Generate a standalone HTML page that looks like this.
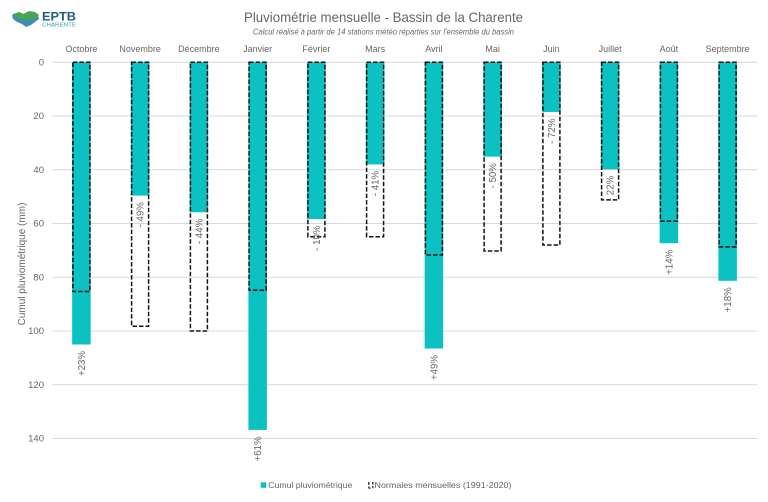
<!DOCTYPE html>
<html><head><meta charset="utf-8"><style>
html,body{margin:0;padding:0;background:#fff;}
svg{display:block;font-family:"Liberation Sans",Arial,sans-serif;}
</style></head><body>
<svg width="768" height="502" viewBox="0 0 768 502" xmlns="http://www.w3.org/2000/svg">
<rect width="768" height="502" fill="#fff"/>
<!-- logo -->
<g>
<path d="M12,15 L18,13 L22,15 L27,12 L33,13 L38,15 L39,19 L35,22 L31,25 L26,27 L22,24 L17,22 L13,19 Z" fill="#3f8fb0"/>
<path d="M13,14 L19,12 L24,14 L29,11 L35,12 L39,15 L36,18 L30,19 L25,20 L20,18 L15,17 Z" fill="#4aa54e"/>
<text x="42" y="20.5" font-size="11.5" font-weight="bold" fill="#1e5a80" textLength="34" lengthAdjust="spacingAndGlyphs">EPTB</text>
<text x="42" y="26.5" font-size="5.5" fill="#2aa6b0" textLength="34" lengthAdjust="spacingAndGlyphs">CHARENTE</text>
</g>
<!-- titles -->
<text x="244" y="22" font-size="14" fill="#666" textLength="279" lengthAdjust="spacingAndGlyphs">Pluviométrie mensuelle - Bassin de la Charente</text>
<text x="253" y="34.5" font-size="8" font-style="italic" fill="#666" textLength="261" lengthAdjust="spacingAndGlyphs">Calcul réalisé à partir de 14 stations météo réparties sur l'ensemble du bassin</text>
<!-- gridlines -->
<g stroke="#d9d9d9" stroke-width="1">
<line x1="52" x2="757" y1="62.3" y2="62.3"/>
<line x1="52" x2="757" y1="116" y2="116"/>
<line x1="52" x2="757" y1="169.8" y2="169.8"/>
<line x1="52" x2="757" y1="223.5" y2="223.5"/>
<line x1="52" x2="757" y1="277.3" y2="277.3"/>
<line x1="52" x2="757" y1="331" y2="331"/>
<line x1="52" x2="757" y1="384.8" y2="384.8"/>
<line x1="52" x2="757" y1="438.5" y2="438.5"/>
</g>
<!-- y tick labels -->
<g font-size="9.5" fill="#666" text-anchor="end">
<text x="44" y="65.5">0</text>
<text x="44" y="119.2">20</text>
<text x="44" y="173">40</text>
<text x="44" y="226.7">60</text>
<text x="44" y="280.5">80</text>
<text x="44" y="334.2">100</text>
<text x="44" y="388">120</text>
<text x="44" y="441.7">140</text>
</g>
<text transform="translate(25,264) rotate(-90)" font-size="10" fill="#666" text-anchor="middle">Cumul pluviométrique (mm)</text>
<!-- month labels -->
<g font-size="9" fill="#666" text-anchor="middle">
<text x="81.4" y="52">Octobre</text>
<text x="140.1" y="52">Novembre</text>
<text x="198.9" y="52">Décembre</text>
<text x="257.6" y="52">Janvier</text>
<text x="316.4" y="52">Février</text>
<text x="375.1" y="52">Mars</text>
<text x="433.9" y="52">Avril</text>
<text x="492.6" y="52">Mai</text>
<text x="551.4" y="52">Juin</text>
<text x="610.1" y="52">Juillet</text>
<text x="668.9" y="52">Août</text>
<text x="727.6" y="52">Septembre</text>
</g>
<!-- teal bars -->
<g fill="#0bc1c1">
<rect x="72.15" y="62.3" width="18.5" height="282.2"/>
<rect x="130.9" y="62.3" width="18.5" height="133.3"/>
<rect x="189.65" y="62.3" width="18.5" height="150"/>
<rect x="248.4" y="62.3" width="18.5" height="367.6"/>
<rect x="307.15" y="62.3" width="18.5" height="156.7"/>
<rect x="365.9" y="62.3" width="18.5" height="102.1"/>
<rect x="424.65" y="62.3" width="18.5" height="286.2"/>
<rect x="483.4" y="62.3" width="18.5" height="94.3"/>
<rect x="542.15" y="62.3" width="18.5" height="49.7"/>
<rect x="600.9" y="62.3" width="18.5" height="107"/>
<rect x="659.65" y="62.3" width="18.5" height="180.9"/>
<rect x="718.4" y="62.3" width="18.5" height="218.5"/>
</g>
<!-- normals dashed boxes -->
<g fill="none" stroke="#111" stroke-width="1.5" stroke-dasharray="4.5 2">
<rect x="72.9" y="62.3" width="17" height="229.2"/>
<rect x="131.6" y="62.3" width="17" height="263.9"/>
<rect x="190.4" y="62.3" width="17" height="268.7"/>
<rect x="249.1" y="62.3" width="17" height="227.9"/>
<rect x="307.9" y="62.3" width="17" height="174.4"/>
<rect x="366.6" y="62.3" width="17" height="174.4"/>
<rect x="425.4" y="62.3" width="17" height="192.7"/>
<rect x="484.1" y="62.3" width="17" height="188.7"/>
<rect x="542.9" y="62.3" width="17" height="182.7"/>
<rect x="601.6" y="62.3" width="17" height="137.6"/>
<rect x="660.4" y="62.3" width="17" height="158.8"/>
<rect x="719.1" y="62.3" width="17" height="184.6"/>
</g>
<!-- percentage labels -->
<g font-size="9.7" fill="#666" text-anchor="end">
<text transform="translate(84.9,351) rotate(-90)">+23%</text>
<text transform="translate(143.6,202.1) rotate(-90)">- 49%</text>
<text transform="translate(202.4,218.8) rotate(-90)">- 44%</text>
<text transform="translate(261.1,436.4) rotate(-90)">+61%</text>
<text transform="translate(319.9,225.5) rotate(-90)">- 10%</text>
<text transform="translate(378.6,170.9) rotate(-90)">- 41%</text>
<text transform="translate(437.4,355) rotate(-90)">+49%</text>
<text transform="translate(496.1,163.1) rotate(-90)">- 50%</text>
<text transform="translate(554.9,118.5) rotate(-90)">- 72%</text>
<text transform="translate(613.6,175.8) rotate(-90)">- 22%</text>
<text transform="translate(672.4,249.7) rotate(-90)">+14%</text>
<text transform="translate(731.1,287.3) rotate(-90)">+18%</text>
</g>
<!-- legend -->
<rect x="260.7" y="482.3" width="5.5" height="5.5" fill="#0bc1c1"/>
<text x="268.3" y="488" font-size="8.5" fill="#666" textLength="84" lengthAdjust="spacingAndGlyphs">Cumul pluviométrique</text>
<g fill="none" stroke="#111" stroke-width="1.2">
<line x1="368.8" y1="482" x2="368.8" y2="485"/>
<line x1="368.8" y1="486.5" x2="368.8" y2="488.2"/>
<line x1="368.8" y1="488.2" x2="370.3" y2="488.2"/>
<line x1="372.8" y1="482" x2="372.8" y2="484.5"/>
<line x1="372.8" y1="486" x2="372.8" y2="488.2"/>
</g>
<text x="374.5" y="488" font-size="8.5" fill="#666" textLength="137" lengthAdjust="spacingAndGlyphs">Normales mensuelles (1991-2020)</text>
</svg>
</body></html>
